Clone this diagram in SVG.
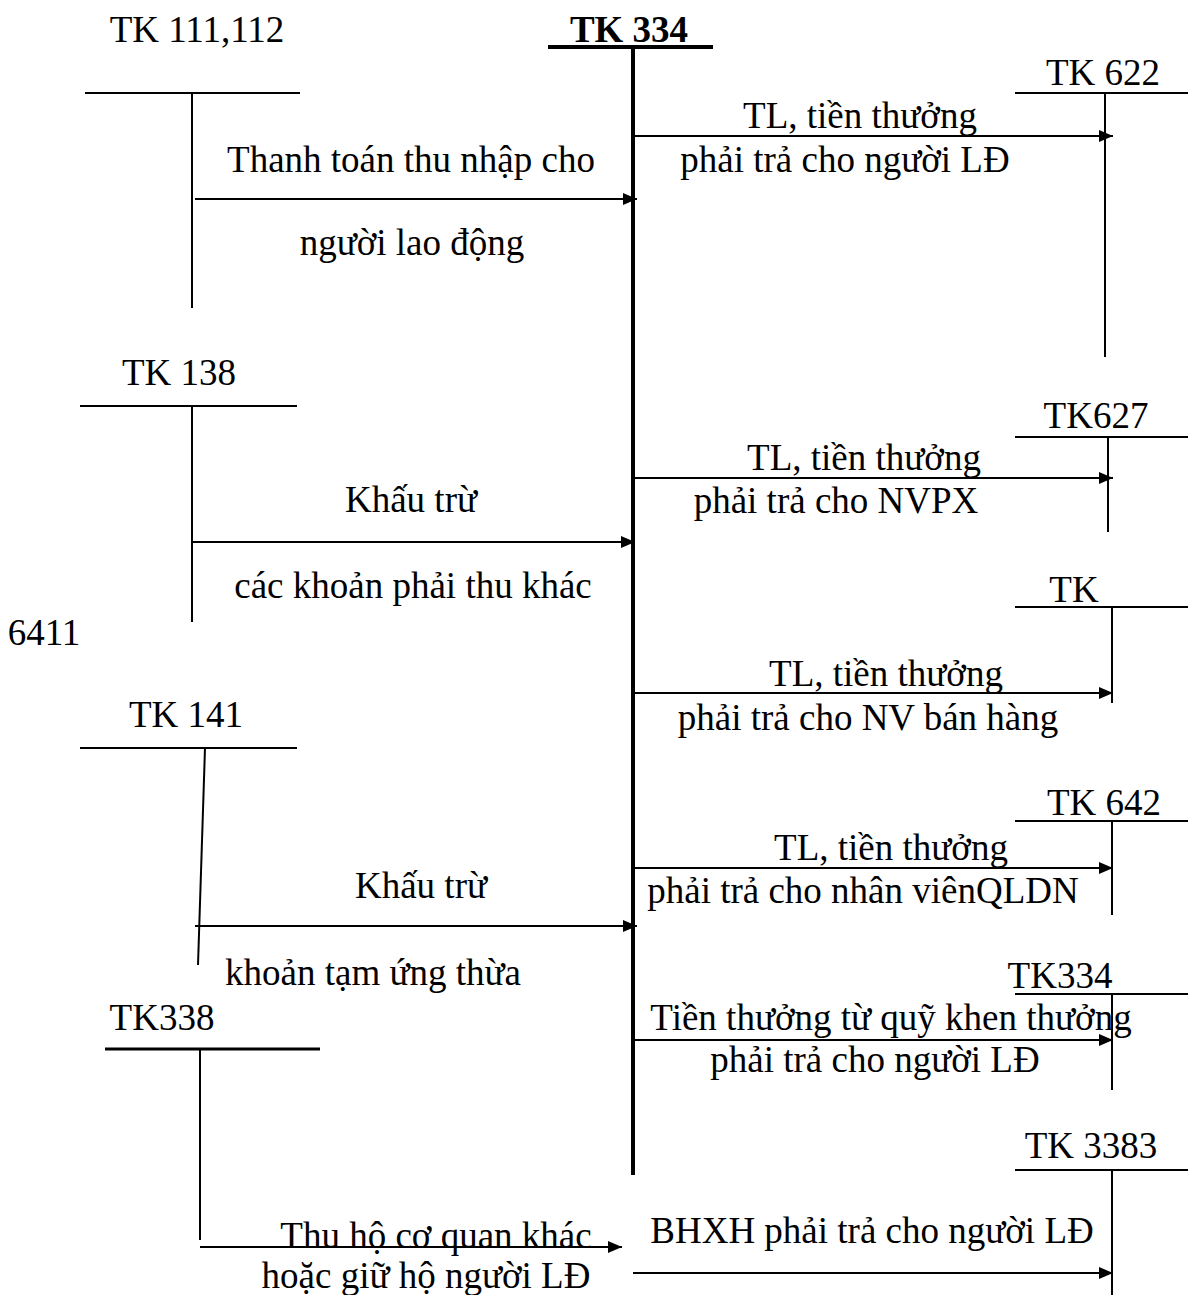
<svg xmlns="http://www.w3.org/2000/svg" width="1188" height="1295" viewBox="0 0 1188 1295">
<defs>
<style>
text{font-family:"Liberation Serif","Times New Roman",serif;font-size:37px;fill:#000;text-anchor:middle}
.b{font-weight:bold}
.ln{stroke:#000;stroke-width:2;fill:none}
.thick{stroke:#000;stroke-width:4;fill:none}
.arr{stroke:#000;stroke-width:2;fill:none;marker-end:url(#ah)}
</style>
<marker id="ah" viewBox="0 0 14 12" markerWidth="14" markerHeight="12" refX="14" refY="6" markerUnits="userSpaceOnUse" orient="auto">
<path d="M0,0 L14,6 L0,12 z" fill="#000"/>
</marker>
</defs>
<rect width="1188" height="1295" fill="#fff"/>

<g id="tk334">
<text class="b" x="629" y="42">TK 334</text>
<line class="thick" x1="548" y1="47" x2="713" y2="47"/>
<line class="thick" x1="633" y1="47" x2="633" y2="1175"/>
</g>

<g id="tk111">
<text x="197" y="42">TK 111,112</text>
<line class="ln" x1="85" y1="93" x2="300" y2="93"/>
<line class="ln" x1="192" y1="93" x2="192" y2="308"/>
</g>

<g id="tk138">
<text x="179" y="385">TK 138</text>
<line class="ln" x1="80" y1="406" x2="297" y2="406"/>
<line class="ln" x1="192" y1="406" x2="192" y2="622"/>
</g>

<g id="tk141">
<text x="186" y="727">TK 141</text>
<line class="ln" x1="80" y1="748" x2="297" y2="748"/>
<line class="ln" x1="205" y1="748" x2="198" y2="965"/>
</g>

<g id="tk338">
<text x="162" y="1030">TK338</text>
<line class="ln" x1="105" y1="1049" x2="320" y2="1049" style="stroke-width:3"/>
<line class="ln" x1="200" y1="1049" x2="200" y2="1240"/>
</g>

<g id="tk622">
<text x="1103" y="85">TK 622</text>
<line class="ln" x1="1015" y1="93" x2="1188" y2="93"/>
<line class="ln" x1="1105" y1="93" x2="1105" y2="357"/>
</g>

<g id="tk627">
<text x="1096" y="428">TK627</text>
<line class="ln" x1="1015" y1="437" x2="1188" y2="437"/>
<line class="ln" x1="1108" y1="437" x2="1108" y2="532"/>
</g>

<g id="tk6411">
<text x="1074" y="602">TK</text>
<text x="44" y="645">6411</text>
<line class="ln" x1="1015" y1="607" x2="1188" y2="607"/>
<line class="ln" x1="1112" y1="607" x2="1112" y2="703"/>
</g>

<g id="tk642">
<text x="1104" y="815">TK 642</text>
<line class="ln" x1="1015" y1="821" x2="1188" y2="821"/>
<line class="ln" x1="1112" y1="821" x2="1112" y2="915"/>
</g>

<g id="tk334r">
<text x="1060" y="988">TK334</text>
<line class="ln" x1="1015" y1="994" x2="1188" y2="994"/>
<line class="ln" x1="1112" y1="994" x2="1112" y2="1090"/>
</g>

<g id="tk3383">
<text x="1091" y="1158">TK 3383</text>
<line class="ln" x1="1015" y1="1170" x2="1188" y2="1170"/>
<line class="ln" x1="1112" y1="1170" x2="1112" y2="1295"/>
</g>

<g id="connectors">
<line class="arr" x1="633" y1="136" x2="1113" y2="136"/>
<line class="arr" x1="195" y1="199" x2="637" y2="199"/>
<line class="arr" x1="633" y1="478" x2="1113" y2="478"/>
<line class="arr" x1="192" y1="542" x2="635" y2="542"/>
<line class="arr" x1="633" y1="693" x2="1113" y2="693"/>
<line class="arr" x1="633" y1="868" x2="1113" y2="868"/>
<line class="arr" x1="195" y1="926" x2="637" y2="926"/>
<line class="arr" x1="633" y1="1040" x2="1113" y2="1040"/>
<line class="arr" x1="200" y1="1247" x2="622" y2="1247"/>
<line class="arr" x1="633" y1="1273" x2="1113" y2="1273"/>
</g>

<g id="labels">
<text x="860" y="128">TL, tiền thưởng</text>
<text x="845" y="172">phải trả cho người LĐ</text>
<text x="411" y="172">Thanh toán thu nhập cho</text>
<text x="412" y="255">người lao động</text>
<text x="411" y="512">Khấu trừ</text>
<text x="413" y="598">các khoản phải thu khác</text>
<text x="864" y="470">TL, tiền thưởng</text>
<text x="836" y="513">phải trả cho NVPX</text>
<text x="886" y="686">TL, tiền thưởng</text>
<text x="868" y="730">phải trả cho NV bán hàng</text>
<text x="421" y="898">Khấu trừ</text>
<text x="373" y="985">khoản tạm ứng thừa</text>
<text x="891" y="860">TL, tiền thưởng</text>
<text x="863" y="903">phải trả cho nhân viênQLDN</text>
<text x="891" y="1030">Tiền thưởng từ quỹ khen thưởng</text>
<text x="875" y="1072">phải trả cho người LĐ</text>
<text x="436" y="1248">Thu hộ cơ quan khác</text>
<text x="426" y="1288">hoặc giữ hộ người LĐ</text>
<text x="872" y="1243">BHXH phải trả cho người LĐ</text>
</g>
</svg>
